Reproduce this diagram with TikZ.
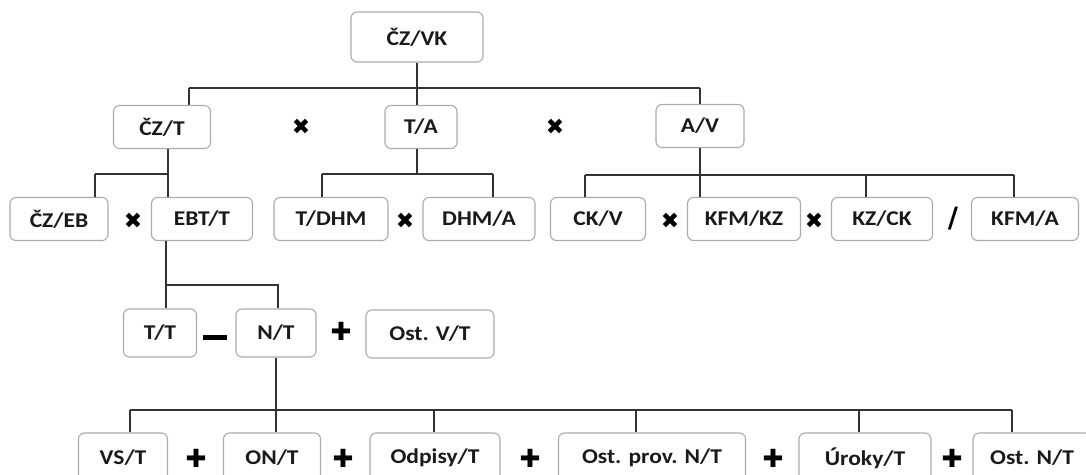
\documentclass[tikz,border=0pt]{standalone}
\usepackage{fontspec}
\setmainfont{Carlito}[FakeStretch=1.12]
\newfontfamily\symfont{DejaVu Sans}
\usepackage{xcolor}
\usepackage{tikz}

\definecolor{boxgray}{HTML}{ABABAB}
\definecolor{linegray}{HTML}{333333}
\definecolor{txtblack}{HTML}{1A1A1A}

\tikzset{
  box/.style={draw=boxgray, line width=1.1pt, rounded corners=6pt, fill=white,
    minimum width=#1, minimum height=43pt, inner sep=0pt, text=txtblack,
    font=\fontsize{21}{24}\selectfont\bfseries},
  tall/.style={minimum height=50pt},
  op/.style={inner sep=0pt, text=black, font=\symfont\fontsize{22}{22}\selectfont},
  plus/.style={inner sep=0pt, text=black, font=\symfont\fontsize{25}{25}\selectfont},
  link/.style={draw=linegray, line width=1.3pt},
}

\begin{document}
\begin{tikzpicture}[x=1pt, y=-1pt]
\useasboundingbox (0,0) rectangle (1086,474);
\clip (0,0) rectangle (1086,474);

% top
\node[box=132pt, tall] (vk) at (417,37) {ČZ/VK};

% second row
\node[box=97pt] (czt) at (162,127) {ČZ/T};
\node[box=72pt] (ta)  at (421,127) {T/A};
\node[box=88pt] (av)  at (700,126) {A/V};
\node[op] (m1) at (301,127) {✖};
\node[op] (m2) at (555,127) {✖};

% third row
\node[box=98pt]  (czeb)  at (59,219)   {ČZ/EB};
\node[box=101pt] (ebt)   at (202,219)  {EBT/T};
\node[box=114pt] (tdhm)  at (331,219)  {T/DHM};
\node[box=112pt] (dhma)  at (479,219)  {DHM/A};
\node[box=95pt]  (ckv)   at (598,219)  {CK/V};
\node[box=113pt] (kfmkz) at (744,219)  {KFM/KZ};
\node[box=101pt] (kzck)  at (882,219)  {KZ/CK};
\node[box=107pt] (kfma)  at (1025,219) {KFM/A};
\node[op] (m3) at (133,221) {✖};
\node[op] (m4) at (405,221) {✖};
\node[op] (m5) at (670,221) {✖};
\node[op] (m6) at (814,221) {✖};
\node[inner sep=0pt, font=\symfont\bfseries\fontsize{28}{28}\selectfont] (d1) at (953,219) {/};

% fourth row
\node[box=73pt, minimum height=48pt]  (tt)   at (160,333) {T/T};
\node[box=80pt, minimum height=48pt]  (nt)   at (276,333) {N/T};
\node[box=128pt, minimum height=48pt] (ostv) at (430,334) {Ost. V/T};
\node[inner sep=0pt, fill=black, minimum width=24pt, minimum height=5pt] (s1) at (215,337) {};
\node[plus] (p1) at (341,331) {✚};

% bottom row
\node[box=89pt, tall]  (vst)   at (123,458) {VS/T};
\node[box=97pt, tall]  (ont)   at (272,458) {ON/T};
\node[box=130pt, tall] (odp)   at (435,458) {Odpisy/T};
\node[box=187pt, tall] (ostp)  at (652,458) {Ost. prov. N/T};
\node[box=132pt, tall] (uroky) at (865,458) {Úroky/T};
\node[box=118pt, tall] (ostn)  at (1032,458) {Ost. N/T};
\node[plus] (p2) at (196,458) {✚};
\node[plus] (p3) at (343,458) {✚};
\node[plus] (p4) at (530,458) {✚};
\node[plus] (p5) at (773,458) {✚};
\node[plus] (p6) at (952,458) {✚};

% bus under ČZ/VK
\coordinate (b1l) at (189,88);
\coordinate (b1r) at (700,88);
\draw[link] (b1l) -- (b1r);
\draw[link] (b1l) -- (b1l |- czt.north);
\draw[link] (b1r) -- (av.north);
\draw[link] (vk.south) -- (vk.south |- ta.north);

% bus under ČZ/T
\coordinate (b2l) at (95,174);
\coordinate (b2r) at (168,174);
\draw[link] (b2l) -- (b2r);
\draw[link] (b2l) -- (b2l |- czeb.north);
\draw[link] (czt.south -| b2r) -- (b2r |- ebt.north);

% bus under T/A
\coordinate (b3l) at (322,174);
\coordinate (b3r) at (493,174);
\draw[link] (b3l) -- (b3r);
\draw[link] (b3l) -- (b3l |- tdhm.north);
\draw[link] (b3r) -- (b3r |- dhma.north);
\draw[link] (vk.south |- ta.south) -- (vk.south |- b3l);

% bus under A/V
\coordinate (b4l) at (585,175);
\coordinate (b4m) at (866,175);
\coordinate (b4r) at (1014,175);
\draw[link] (b4l) -- (b4r);
\draw[link] (b4l) -- (b4l |- ckv.north);
\draw[link] (av.south) -- (av.south |- kfmkz.north);
\draw[link] (b4m) -- (b4m |- kzck.north);
\draw[link] (b4r) -- (b4r |- kfma.north);

% bus under EBT/T
\coordinate (b5l) at (166,285);
\coordinate (b5r) at (278,285);
\draw[link] (ebt.south -| b5l) -- (b5l |- tt.north);
\draw[link] (b5l) -- (b5r) -- (b5r |- nt.north);

% bus under N/T
\coordinate (b6a) at (130,410);
\coordinate (b6b) at (434,410);
\coordinate (b6c) at (636,410);
\coordinate (b6d) at (859,410);
\coordinate (b6e) at (1012,410);
\draw[link] (b6a) -- (b6e);
\draw[link] (nt.south) -- (nt.south |- ont.north);
\draw[link] (b6a) -- (b6a |- vst.north);
\draw[link] (b6b) -- (b6b |- odp.north);
\draw[link] (b6c) -- (b6c |- ostp.north);
\draw[link] (b6d) -- (b6d |- uroky.north);
\draw[link] (b6e) -- (b6e |- ostn.north);
\end{tikzpicture}
\end{document}
